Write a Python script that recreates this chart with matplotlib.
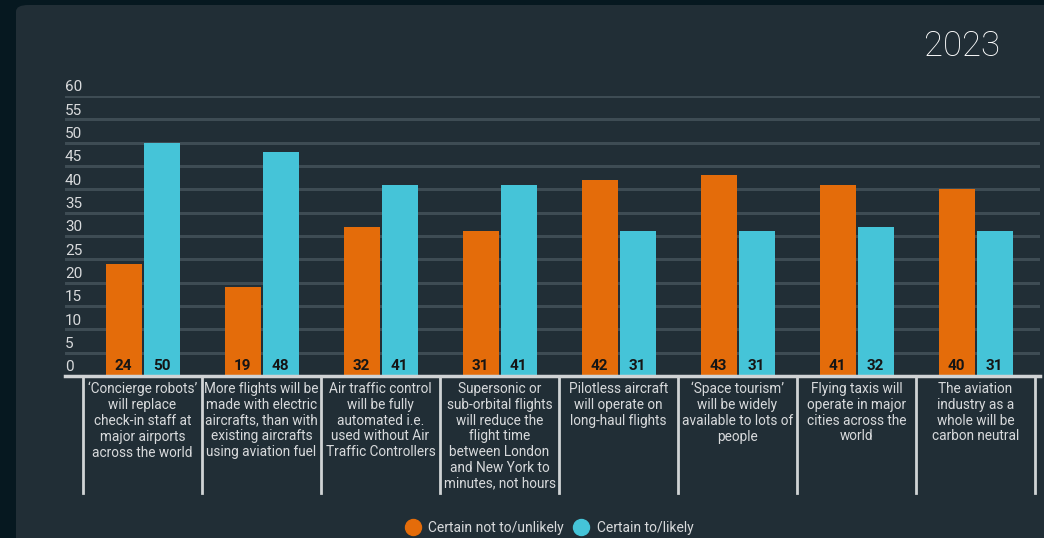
import matplotlib
matplotlib.use("Agg")
import matplotlib.pyplot as plt
from matplotlib.patches import FancyBboxPatch
from matplotlib.lines import Line2D

plt.rcParams['font.family'] = ['Roboto', 'DejaVu Sans']

categories = [
    "\u2018Concierge robots\u2019\nwill replace\ncheck-in staff at\nmajor airports\nacross the world",
    "More flights will be\nmade with electric\naircrafts, than with\nexisting aircrafts\nusing aviation fuel",
    "Air traffic control\nwill be fully\nautomated i.e.\nused without Air\nTraffic Controllers",
    "Supersonic or\nsub-orbital flights\nwill reduce the\nflight time\nbetween London\nand New York to\nminutes, not hours",
    "Pilotless aircraft\nwill operate on\nlong-haul flights",
    "\u2018Space tourism\u2019\nwill be widely\navailable to lots of\npeople",
    "Flying taxis will\noperate in major\ncities across the\nworld",
    "The aviation\nindustry as a\nwhole will be\ncarbon neutral",
]
unlikely = [24, 19, 32, 31, 42, 43, 41, 40]
likely = [50, 48, 41, 41, 31, 31, 32, 31]
series_names = ["Certain not to/unlikely", "Certain to/likely"]
yticks = [0, 5, 10, 15, 20, 25, 30, 35, 40, 45, 50, 55, 60]
title = "2023"

ORANGE = "#E46C0A"
CYAN = "#45C4D8"
CARD = "#212E36"
OUTER = "#061820"
GRID = "#3E4C54"
TXT = "#D8DADC"

W, H = 1044, 538
fig = plt.figure(figsize=(W / 100, H / 100), dpi=100)
fig.patch.set_facecolor(OUTER)

card = FancyBboxPatch((16 / W, -0.1), 1.2, (1 - 5 / H) + 0.1,
                      boxstyle="round,pad=0,rounding_size=0.012",
                      transform=fig.transFigure, facecolor=CARD,
                      edgecolor="none", zorder=-10)
fig.patches.append(card)

# axes: x from 65px to 1040px, y: 0 -> 376px, 60 -> 96px
left_px, right_px = 65, 1040
y0_px, y60_px = 376, 96
ax = fig.add_axes([left_px / W, 1 - y0_px / H, (right_px - left_px) / W, (y0_px - y60_px) / H])
ax.set_zorder(5)
ax.set_facecolor("none")
pitch = 119.0
c0 = 142.5
ax.set_xlim((left_px - c0) / pitch, (right_px - c0) / pitch)
ax.set_ylim(0, 60)
for s in ax.spines.values():
    s.set_visible(False)
ax.set_xticks([])
ax.set_yticks([])

pxu = (y0_px - y60_px) / 60.0
xmin, xmax = ax.get_xlim()
for t in yticks[1:]:
    ax.axhline(t, color=GRID, lw=2.2, zorder=1)
for t in yticks:
    ax.text(xmin, t + 4.8 / pxu, str(t), ha="left", va="baseline", fontsize=11,
            color=TXT, zorder=3)

bw = 36 / pitch
off = 19 / pitch
n = len(categories)
xs = list(range(n))
ax.bar([x - off for x in xs], unlikely, width=bw, color=ORANGE, zorder=2)
ax.bar([x + off for x in xs], likely, width=bw, color=CYAN, zorder=2)
for x, a, b in zip(xs, unlikely, likely):
    ax.text(x - off, 5.5 / pxu, str(a), ha="center", va="baseline", fontsize=11,
            fontweight="semibold", color="#151515", zorder=4)
    ax.text(x + off, 5.5 / pxu, str(b), ha="center", va="baseline", fontsize=11,
            fontweight="semibold", color="#151515", zorder=4)

# axis baseline
ax.axhline(0, color="#D0D3D5", lw=2.5, zorder=5, clip_on=False)

sep_bottom = -(493 - y0_px) / pxu
for i in range(n + 1):
    ax.plot([i - 0.5, i - 0.5], [-0.3, sep_bottom], color="#D0D3D5", lw=2,
            clip_on=False, zorder=5)

for x, lab in zip(xs, categories):
    ax.text(x, -(382 - y0_px) / pxu, lab, ha="center", va="top", fontsize=9.8,
            color=TXT, linespacing=1.16, clip_on=False)

fig.text(1000 / W, 1 - 46 / H, title, ha="right", va="center", fontsize=25,
         fontweight="light", color="white")

handles = [Line2D([], [], marker="o", ls="none", markersize=11.5, color=ORANGE),
           Line2D([], [], marker="o", ls="none", markersize=11.5, color=CYAN)]
fig.legend(handles, series_names, loc="center", bbox_to_anchor=(549 / W, 1 - 528 / H),
           ncol=2, frameon=False, fontsize=10, labelcolor=TXT,
           handletextpad=0.5, columnspacing=0.65, handlelength=1.2)

fig.savefig("out.png", dpi=100, facecolor=OUTER)
